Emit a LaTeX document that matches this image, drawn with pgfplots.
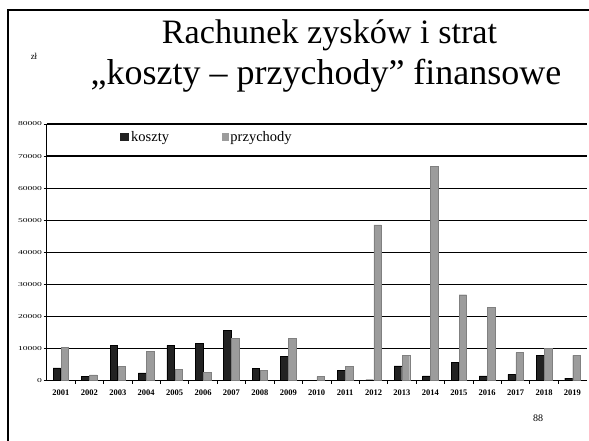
\documentclass[border=0pt]{standalone}
\usepackage{fontspec}
\setmainfont{Liberation Serif}
\usepackage{graphicx}
\usepackage{pgfplots}
\pgfplotsset{compat=1.18}
\usepackage{pgfplotstable}
\definecolor{kosztyc}{HTML}{222222}
\definecolor{przychc}{HTML}{9C9C9C}
\pgfplotstableread{
x y
1 4000
2 1250
3 11000
4 2400
5 11000
6 11700
7 15700
8 3900
9 7600
10 0
11 3200
12 300
13 4600
14 1500
15 5700
16 1500
17 2000
18 7800
19 800
}\koszty
\pgfplotstableread{
x y
1 10400
2 1800
3 4500
4 9200
5 3500
6 2700
7 13200
8 3300
9 13300
10 1250
11 4400
12 48600
13 7800
14 66700
15 26800
16 22900
17 8750
18 10100
19 7900
}\przychody
\begin{document}
\begin{tikzpicture}[x=1pt,y=1pt]
\useasboundingbox (0,0) rectangle (589,441);
\fill[white] (0,0) rectangle (589,441);
\draw[line width=2pt] (8,0) -- (8,431) -- (589,431);
\node[anchor=base, font=\fontsize{34.2}{36}\selectfont] at (329.5,397.7) {Rachunek zysków i strat};
\node[anchor=base, font=\fontsize{36}{38}\selectfont] at (326,356) {„koszty – przychody” finansowe};
\node[font=\fontsize{9}{10}\selectfont] at (34,385) {zł};
\node[font=\fontsize{10}{11}\selectfont] at (538,22.5) {88};
\begin{axis}[
  at={(46.7pt,60.3pt)}, anchor=south west,
  scale only axis, width=540pt, height=256.7pt,
  xmin=0.5, xmax=19.5, ymin=0, ymax=80000,
  axis x line=bottom, axis y line=left, axis line style={-, line width=0.9pt},
  ybar, bar width=7.5pt,
  ymajorgrids, grid style={black, line width=1.3pt},
  xtick={1,...,19},
  xticklabels={2001,2002,2003,2004,2005,2006,2007,2008,2009,2010,2011,2012,2013,2014,2015,2016,2017,2018,2019},
  minor xtick={1.5,2.5,...,18.5},
  major x tick style={draw=none},
  minor x tick style={black, line width=0.8pt},
  tick align=outside, minor tick length=3pt, major tick length=3pt,
  ytick={0,10000,...,80000},
  ytick style={black, line width=0.6pt},
  scaled y ticks=false,
  /pgf/number format/assume math mode=true,
  /pgf/number format/set thousands separator={},
  yticklabel={\scalebox{1.6}[1]{\pgfmathprintnumber{\tick}}},
  yticklabel style={font=\fontsize{6}{6}\selectfont, inner sep=1.5pt},
  xticklabel style={font=\bfseries\fontsize{8.5}{9}\selectfont, inner sep=2pt, yshift=-3.5pt},
  legend style={at={(0.136,0.95)}, anchor=west, draw=none, fill=none,
    font=\fontsize{14.5}{15}\selectfont, legend columns=2,
    nodes={inner sep=1pt}, inner sep=0pt},
  /tikz/every even column/.append style={column sep=52pt},
]
\addplot[fill=kosztyc, draw=black, bar shift=-4pt,
  legend image code/.code={\fill[kosztyc] (0pt,-3pt) rectangle (8pt,4pt);}]
  table[x=x,y=y] {\koszty};
\addplot[fill=przychc, draw=gray, bar shift=4pt,
  legend image code/.code={\fill[przychc] (1pt,-3pt) rectangle (7pt,3.5pt);}]
  table[x=x,y=y] {\przychody};
\legend{\hspace{1.5pt}koszty, \hspace{1pt}przychody}
\end{axis}
\end{tikzpicture}
\end{document}
